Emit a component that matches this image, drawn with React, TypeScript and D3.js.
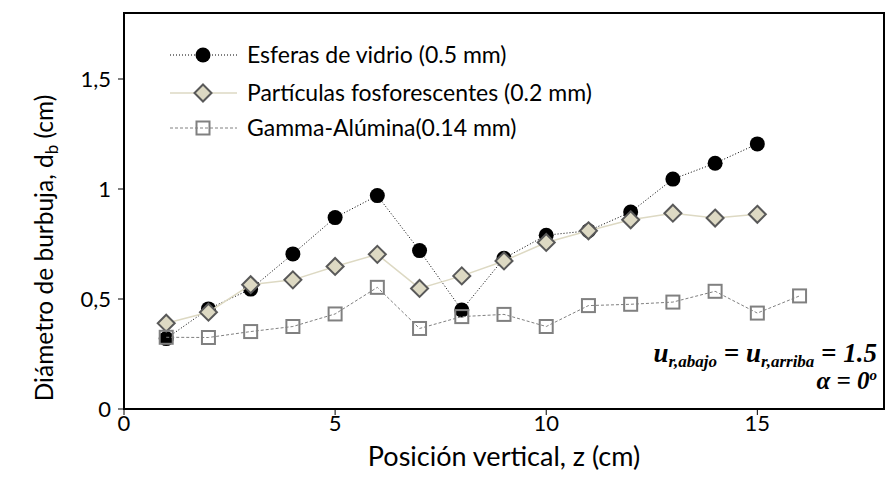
import React from "react";
import * as d3 from "d3";

// Bubble diameter vs. vertical position for three particle types
const positions = [1, 2, 3, 4, 5, 6, 7, 8, 9, 10, 11, 12, 13, 14, 15];
const positionsGamma = [1, 2, 3, 4, 5, 6, 7, 8, 9, 10, 11, 12, 13, 14, 15, 16];

const esferas = [0.32, 0.455, 0.545, 0.705, 0.87, 0.97, 0.72, 0.45, 0.685, 0.79, 0.81, 0.895, 1.045, 1.117, 1.205];
const particulas = [0.39, 0.44, 0.565, 0.587, 0.648, 0.703, 0.548, 0.605, 0.673, 0.757, 0.81, 0.86, 0.89, 0.868, 0.885];
const gamma = [0.326, 0.325, 0.352, 0.375, 0.432, 0.553, 0.366, 0.42, 0.43, 0.375, 0.47, 0.476, 0.486, 0.535, 0.436, 0.514];

const xTicks = [0, 5, 10, 15];
const yTicks = [0, 0.5, 1, 1.5];
const yTickLabels = ["0", "0,5", "1", "1,5"];

const legendLabels = [
  "Esferas de vidrio (0.5 mm)",
  "Partículas fosforescentes (0.2 mm)",
  "Gamma-Alúmina(0.14 mm)",
];

const W = 887;
const H = 487;
const plot = { left: 124, right: 884, top: 13, bottom: 409 };

const sansFont = "Lato, 'Open Sans', 'Noto Sans', sans-serif";
const serifFont = "'Liberation Serif', 'DejaVu Serif', serif";

const beige = "#ddd9c3";
const diamondStroke = "#595959";
const squareStroke = "#808080";

function Diamond({ cx, cy, r }: { cx: number; cy: number; r: number }) {
  const d = `M${cx},${cy - r}L${cx + r},${cy}L${cx},${cy + r}L${cx - r},${cy}Z`;
  return <path d={d} fill={beige} stroke={diamondStroke} strokeWidth={2} />;
}

function Square({ cx, cy, s }: { cx: number; cy: number; s: number }) {
  return (
    <rect x={cx - s / 2} y={cy - s / 2} width={s} height={s} fill="none" stroke={squareStroke} strokeWidth={2} />
  );
}

export default function App() {
  const x = d3.scaleLinear().domain([0, 18]).range([plot.left, plot.right]);
  const y = d3.scaleLinear().domain([0, 1.8]).range([plot.bottom, plot.top]);

  const line = d3
    .line<[number, number]>()
    .x((d) => x(d[0]))
    .y((d) => y(d[1]));

  const esferasPts: [number, number][] = positions.map((p, i) => [p, esferas[i]]);
  const particulasPts: [number, number][] = positions.map((p, i) => [p, particulas[i]]);
  const gammaPts: [number, number][] = positionsGamma.map((p, i) => [p, gamma[i]]);

  const legendX0 = 170;
  const legendX1 = 237;
  const legendMarkX = 203;
  const legendTextX = 247;
  const legendYs = [55, 93, 128];

  return (
    <svg
      width={W}
      height={H}
      viewBox={`0 0 ${W} ${H}`}
      style={{ position: "absolute", left: 0, top: 0, background: "#fff" }}
    >
      <rect x={0} y={0} width={W} height={H} fill="#fff" />

      {/* plot frame */}
      <rect
        x={plot.left}
        y={plot.top}
        width={plot.right - plot.left}
        height={plot.bottom - plot.top}
        fill="none"
        stroke="#000"
        strokeWidth={2}
      />

      {/* x ticks */}
      {xTicks.map((t) => (
        <g key={`xt${t}`}>
          <line x1={x(t)} x2={x(t)} y1={plot.bottom} y2={plot.bottom + 6} stroke="#000" strokeWidth={1} />
          <text x={x(t)} y={431} textAnchor="middle" fontFamily={sansFont} fontSize={22} fill="#000">
            {t}
          </text>
        </g>
      ))}

      {/* y ticks */}
      {yTicks.map((t, i) => (
        <g key={`yt${t}`}>
          <line x1={plot.left - 6} x2={plot.left} y1={y(t)} y2={y(t)} stroke="#000" strokeWidth={1} />
          <text x={111} y={y(t) + 8} textAnchor="end" fontFamily={sansFont} fontSize={22} fill="#000">
            {yTickLabels[i]}
          </text>
        </g>
      ))}

      {/* axis titles */}
      <text x={504} y={466} textAnchor="middle" fontFamily={sansFont} fontSize={27} fill="#000">
        Posición vertical, z (cm)
      </text>
      <text
        transform={`translate(53,248) rotate(-90)`}
        textAnchor="middle"
        fontFamily={sansFont}
        fontSize={24.5}
        fill="#000"
      >
        Diámetro de burbuja, d
        <tspan fontSize={17} dy={5}>b</tspan>
        <tspan dy={-5}> (cm)</tspan>
      </text>

      {/* Esferas de vidrio */}
      <path d={line(esferasPts) || ""} fill="none" stroke="#000" strokeWidth={1} strokeDasharray="1,2" />
      {esferasPts.map((d, i) => (
        <circle key={`e${i}`} cx={x(d[0])} cy={y(d[1])} r={7.5} fill="#000" />
      ))}

      {/* Partículas fosforescentes */}
      <path d={line(particulasPts) || ""} fill="none" stroke={beige} strokeWidth={1.5} />
      {particulasPts.map((d, i) => (
        <Diamond key={`p${i}`} cx={x(d[0])} cy={y(d[1])} r={8.5} />
      ))}

      {/* Gamma-Alúmina */}
      <path d={line(gammaPts) || ""} fill="none" stroke={squareStroke} strokeWidth={1} strokeDasharray="3,2" />
      {gammaPts.map((d, i) => (
        <Square key={`g${i}`} cx={x(d[0])} cy={y(d[1])} s={13} />
      ))}

      {/* legend */}
      <g>
        <line x1={legendX0} x2={legendX1} y1={legendYs[0]} y2={legendYs[0]} stroke="#000" strokeWidth={1} strokeDasharray="1,2" />
        <circle cx={legendMarkX} cy={legendYs[0]} r={7.5} fill="#000" />
        <line x1={legendX0} x2={legendX1} y1={legendYs[1]} y2={legendYs[1]} stroke={beige} strokeWidth={1.5} />
        <Diamond cx={legendMarkX} cy={legendYs[1]} r={8.5} />
        <line x1={legendX0} x2={legendX1} y1={legendYs[2]} y2={legendYs[2]} stroke={squareStroke} strokeWidth={1} strokeDasharray="3,2" />
        <Square cx={legendMarkX} cy={legendYs[2]} s={13} />
        {legendLabels.map((l, i) => (
          <text key={l} x={legendTextX} y={legendYs[i] + 8} fontFamily={sansFont} fontSize={23} fill="#000">
            {l}
          </text>
        ))}
      </g>

      {/* flow conditions */}
      <text x={877} y={362} textAnchor="end" fontFamily={serifFont} fontWeight="bold" fontStyle="italic" fontSize={27} fill="#000">
        u<tspan fontSize={17} dy={5}>r,abajo</tspan>
        <tspan dy={-5}> = u</tspan>
        <tspan fontSize={17} dy={5}>r,arriba</tspan>
        <tspan dy={-5}> = 1.5</tspan>
      </text>
      <text x={877} y={389} textAnchor="end" fontFamily={serifFont} fontWeight="bold" fontStyle="italic" fontSize={25} fill="#000">
        α = 0
        <tspan fontSize={15} dy={-9}>o</tspan>
      </text>
    </svg>
  );
}
